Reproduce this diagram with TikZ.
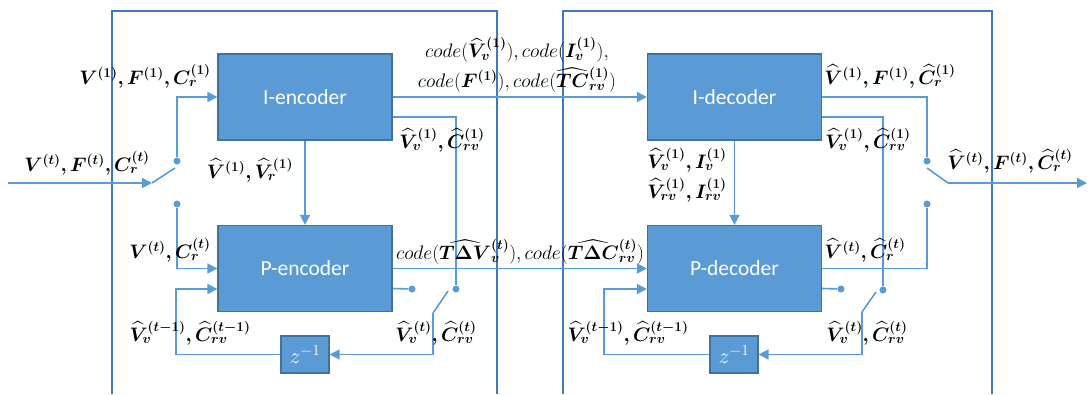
\documentclass[tikz,border=0pt]{standalone}
\usepackage{fix-cm}
\usepackage{amsmath}
\usepackage{bm}
\usepackage{fontspec}
\usetikzlibrary{arrows.meta}
\newfontfamily\blockfont{Carlito}
\definecolor{lineblue}{HTML}{5B9BD5}
\definecolor{boxblue}{HTML}{5B9BD5}
\definecolor{boxedge}{HTML}{41719C}
\definecolor{frameblue}{HTML}{4178BE}
\tikzset{
  block/.style={draw=boxedge, line width=1.2pt, fill=boxblue, text=white,
    font=\blockfont\fontsize{21.5}{24}\selectfont,
    minimum width=174pt, minimum height=86pt, inner sep=0pt},
  delay/.style={block, minimum width=48pt, minimum height=37pt,
    font=\fontsize{22}{24}\selectfont},
  wire/.style={draw=lineblue, line width=1.6pt},
  flow/.style={wire, -{Triangle[length=10pt,width=10pt]}},
  contact/.style={circle, fill=lineblue, inner sep=0pt, minimum size=7pt},
  lbl/.style={font=\fontsize{19.5}{30}\selectfont, inner sep=0pt, align=center},
  frame/.style={draw=frameblue, line width=1.8pt},
}
\begin{document}
\begin{tikzpicture}[x=1pt, y=-1pt]
\useasboundingbox (0,0) rectangle (1089,394);

% encoder and decoder frames (open at the bottom)
\draw[frame] (112,394) -- (112,11) -- (497,11) -- (497,394);
\draw[frame] (563,394) -- (563,11) -- (992,11) -- (992,394);

% blocks
\node[block] (ienc) at (305,97) {I-encoder};
\node[block] (penc) at (305,268.5) {P-encoder};
\node[block] (idec) at (734.5,97) {I-decoder};
\node[block] (pdec) at (734.5,268.5) {P-decoder};
\node[delay] (zenc) at (305,354.5) {$z^{-1}$};
\node[delay] (zdec) at (734,354.5) {$z^{-1}$};

% ---------- encoder ----------
% input switch
\coordinate (inL) at (8,183);
\coordinate (sw1) at (152,183);
\coordinate (sw1t) at (175,168);
\node[contact] (s1a) at (177,161) {};
\node[contact] (s1b) at (177,204) {};
\draw[flow] (inL) -- (sw1);
\draw[wire] (sw1) -- (sw1t);
\draw[flow] (s1a) |- (ienc.west);
\draw[flow] (s1b) |- (penc.west);

% I-encoder outputs
\draw[flow] (ienc.south) -- (penc.north);
\draw[flow] (ienc.east) -- (idec.west);
\node[contact] (e1) at (456,289) {};
\draw[wire] ([yshift=-20pt]ienc.east) -| (e1);

% P-encoder outputs
\draw[flow] (penc.east) -- (pdec.west);
\node[contact] (e2) at (412,289) {};
\draw[wire] ([yshift=-20pt]penc.east) -- (e2);

% encoder feedback switch and delay
\coordinate (sw2) at (433,313);
\coordinate (sw2t) at (448,291);
\draw[wire] (sw2) -- (sw2t);
\draw[flow] (sw2) |- (zenc.east);
\coordinate (fbE) at (176,289);
\draw[flow] (zenc.west) -| (fbE) -- (fbE -| penc.west);

% ---------- decoder ----------
\draw[flow] (idec.south) -- (pdec.north);
\node[contact] (d1) at (927,161) {};
\draw[wire] (idec.east) -| (d1);
\node[contact] (d2) at (883,290) {};
\draw[wire] ([yshift=-20pt]idec.east) -| (d2);

% output switch
\coordinate (sw3t) at (927,168);
\coordinate (sw3) at (948,183);
\coordinate (outR) at (1087,183);
\draw[wire] (sw3t) -- (sw3);
\draw[flow] (sw3) -- (outR);
\node[contact] (d3) at (927,204) {};
\draw[wire] (pdec.east) -| (d3);
\node[contact] (d4) at (841,289) {};
\draw[wire] ([yshift=-20pt]pdec.east) -- (d4);

% decoder feedback switch and delay
\coordinate (sw4) at (862,312);
\coordinate (sw4t) at (876,292);
\draw[wire] (sw4) -- (sw4t);
\draw[flow] (sw4) |- (zdec.east);
\coordinate (fbD) at (604,289);
\draw[flow] (zdec.west) -| (fbD) -- (fbD -| pdec.west);

% ---------- labels ----------
\node[lbl] (l1) at (145,76) {$\bm{V^{(1)}, F^{(1)}, C_r^{(1)}}$};
\node[lbl] (l2) at (87,163) {$\bm{V^{(t)}, F^{(t)}, C_r^{(t)}}$};
\node[lbl] (l3) at (250,170) {$\bm{\widehat{V}^{(1)}, \widehat{V}_r^{(1)}}$};
\node[lbl] (l4) at (170,250) {$\bm{V^{(t)}, C_r^{(t)}}$};
\node[lbl] (l5) at (190,333) {$\bm{\widehat{V}_v^{(t-1)}, \widehat{C}_{rv}^{(t-1)}}$};
\node[lbl] (l6) at (442,140) {$\bm{\widehat{V}_v^{(1)}, \widehat{C}_{rv}^{(1)}}$};
\node[lbl] (l7) at (517,65) {$code(\bm{\widehat{V}_v^{(1)}}), code(\bm{I_v^{(1)}}),$\\
  $code(\bm{F^{(1)}}), code(\widehat{\bm{TC}}{}_{\bm{rv}}^{\bm{(1)}})$};
\node[lbl] (l8) at (520,252) {$code(\widehat{\bm{T\Delta V}}{}_{\bm{v}}^{\bm{(t)}}), code(\widehat{\bm{T\Delta C}}{}_{\bm{rv}}^{\bm{(t)}})$};
\node[lbl] (l9) at (436,333) {$\bm{\widehat{V}_v^{(t)}, \widehat{C}_{rv}^{(t)}}$};
\node[lbl] (l10) at (890,76) {$\bm{\widehat{V}^{(1)}, F^{(1)}, \widehat{C}_r^{(1)}}$};
\node[lbl] (l11) at (868,140) {$\bm{\widehat{V}_v^{(1)}, \widehat{C}_{rv}^{(1)}}$};
\node[lbl] (l12) at (1010,161) {$\bm{\widehat{V}^{(t)}, F^{(t)}, \widehat{C}_r^{(t)}}$};
\node[lbl] (l13) at (687,175) {$\bm{\widehat{V}_v^{(1)}, I_v^{(1)}}$\\ $\bm{\widehat{V}_{rv}^{(1)}, I_{rv}^{(1)}}$};
\node[lbl] (l14) at (865,250) {$\bm{\widehat{V}^{(t)}, \widehat{C}_r^{(t)}}$};
\node[lbl] (l15) at (867,333) {$\bm{\widehat{V}_v^{(t)}, \widehat{C}_{rv}^{(t)}}$};
\node[lbl] (l16) at (628,333) {$\bm{\widehat{V}_v^{(t-1)}, \widehat{C}_{rv}^{(t-1)}}$};
\end{tikzpicture}
\end{document}
